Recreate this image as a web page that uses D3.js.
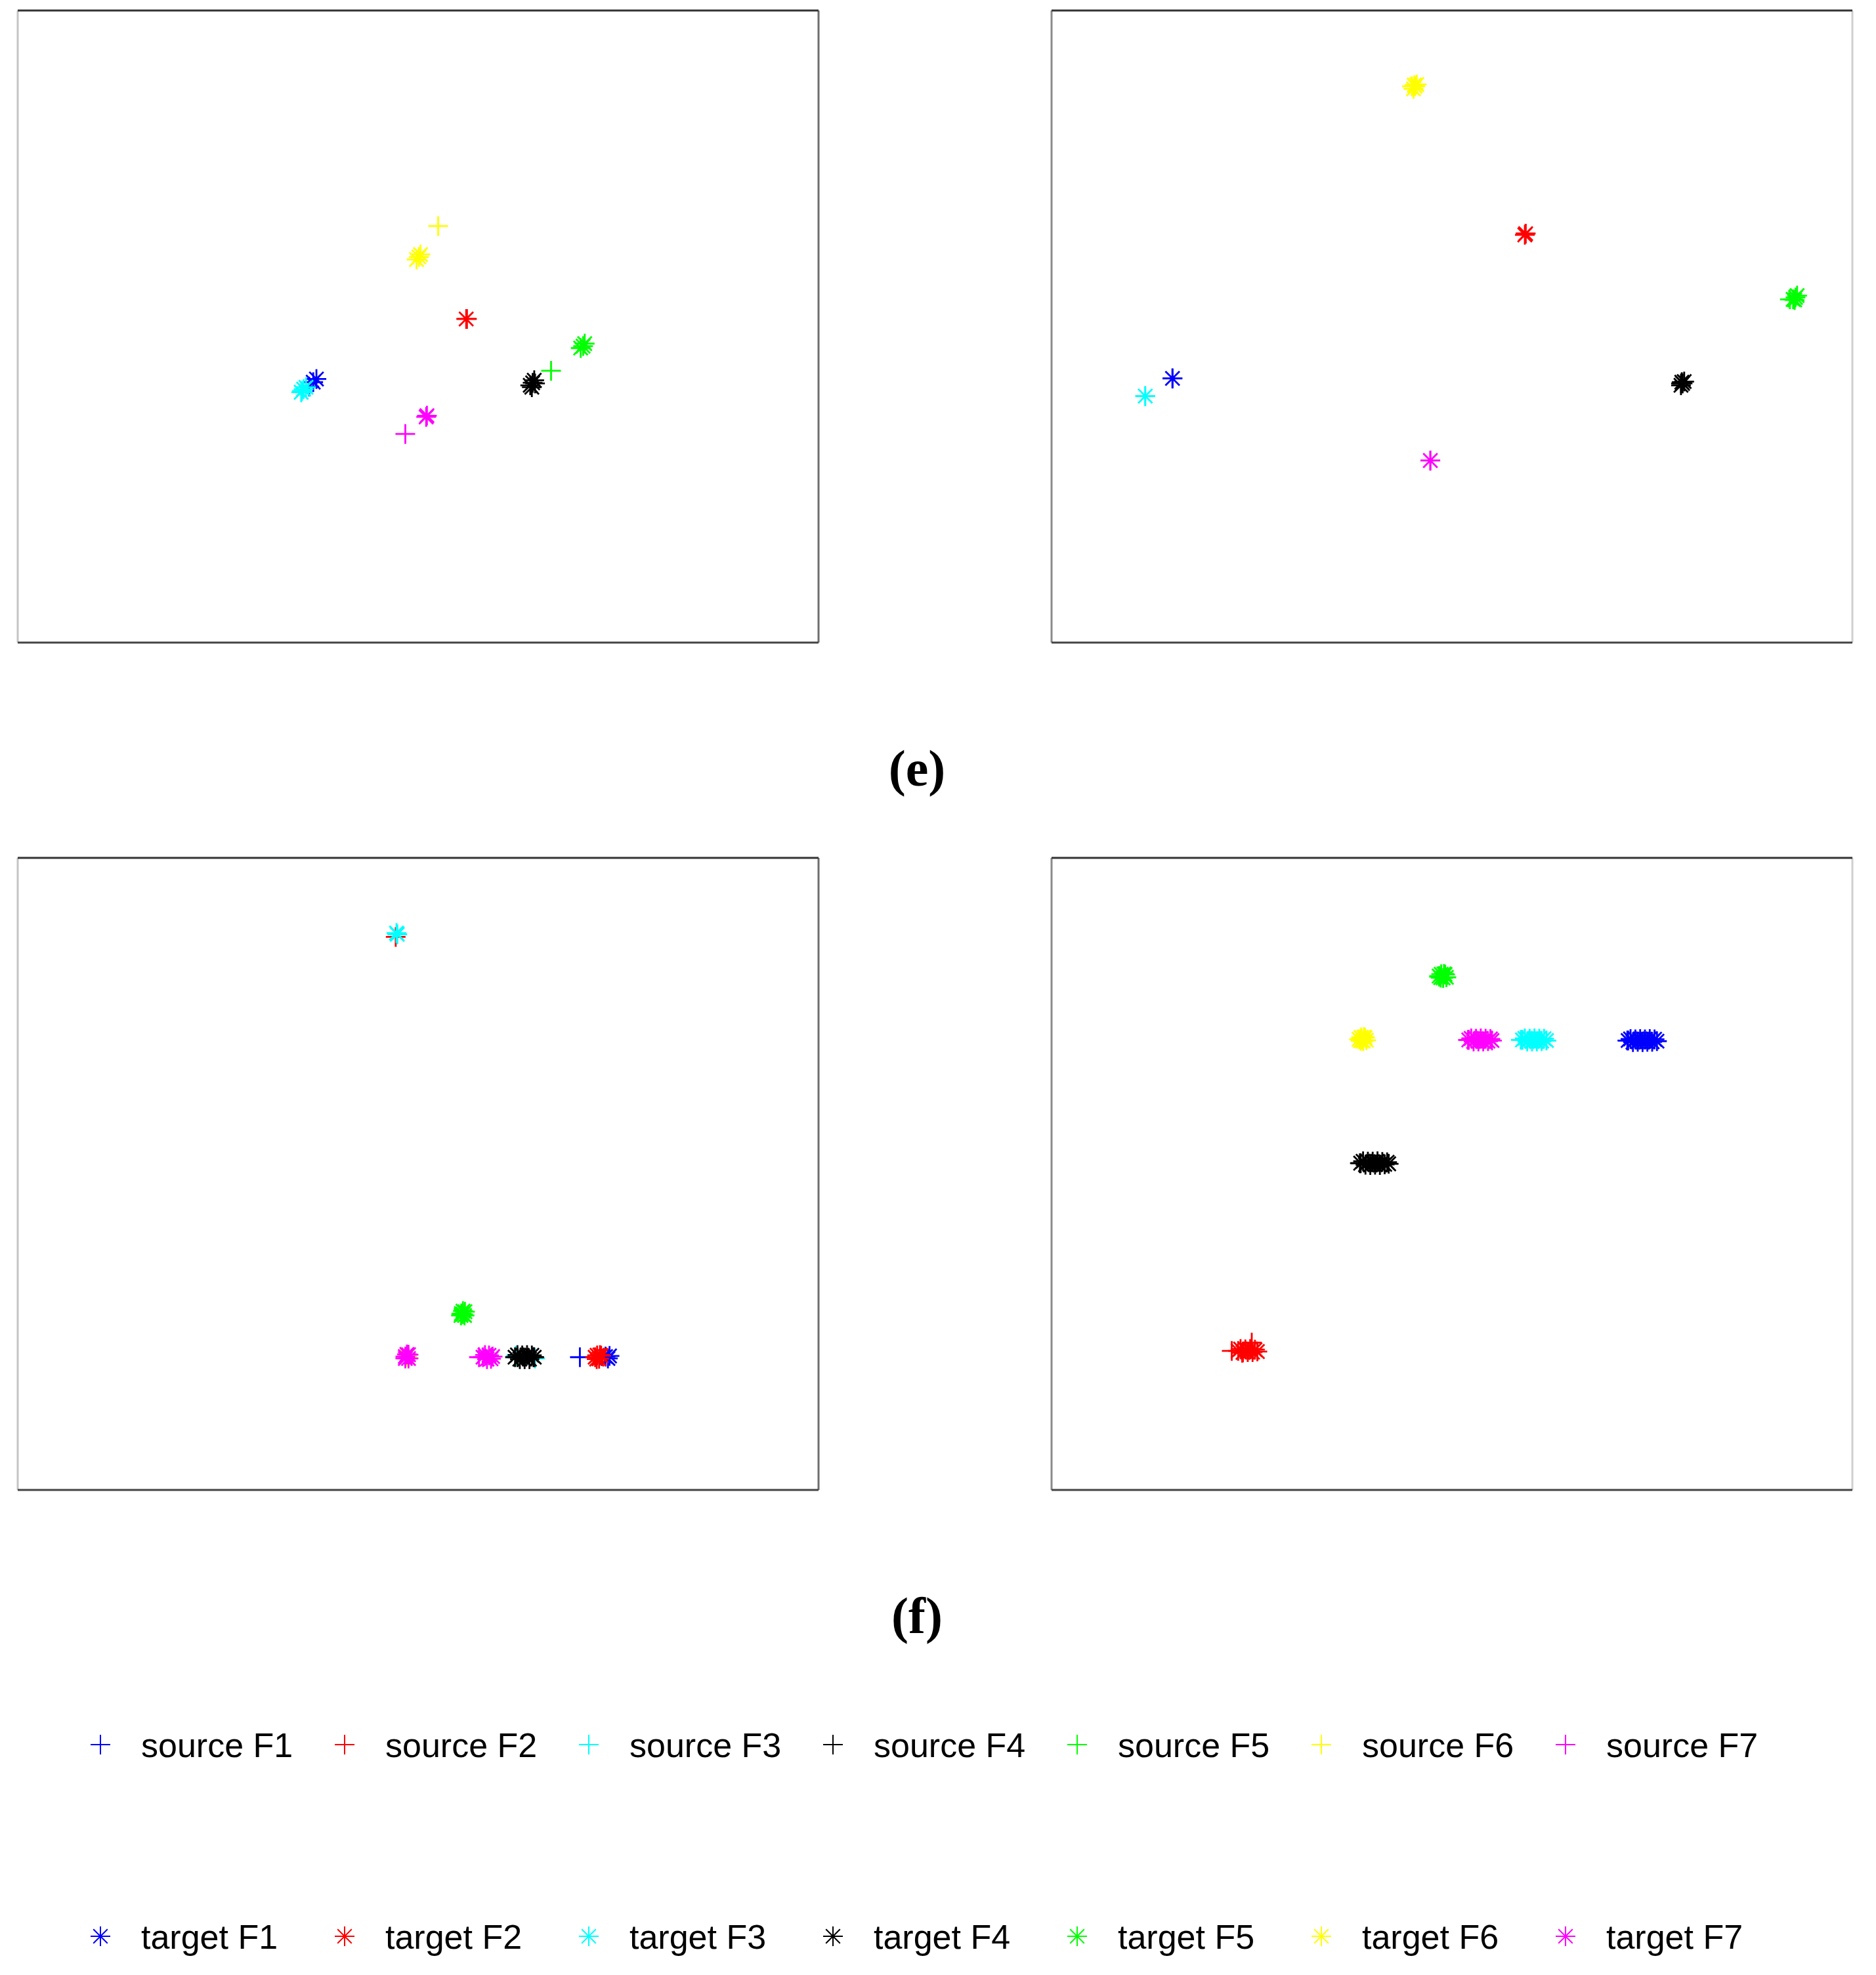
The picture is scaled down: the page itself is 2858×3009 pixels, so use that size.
<!DOCTYPE html>
<html>
<head>
<meta charset="utf-8">
<script src="https://d3js.org/d3.v7.min.js"></script>
<style>
  body { margin: 0; background: #fff; }
</style>
</head>
<body>
<div id="figure"></div>
<script>
// ===========================================================
// DATA (panel units 0-100)
// ===========================================================
var classNames = ["F1", "F2", "F3", "F4", "F5", "F6", "F7"];
var classColors = ["#0000ff", "#ff0000", "#00ffff", "#000000", "#00ff00", "#ffff00", "#ff00ff"];

// (e) left
var e1Source = [
    [[36.4, 40.5]],
    [[56.1, 51.2]],
    [[35.5, 39.8]],
    [[64.6, 41.0]],
    [[66.6, 43.0]],
    [[52.5, 65.9]],
    [[48.4, 33.0]]
];
var e1Target = [
    [[37.3, 41.7], [36.9, 41.2]],
    [[56.0, 51.2]],
    [[35.7, 40.1], [35.4, 39.6], [36.0, 40.4]],
    [[64.3, 41.1], [64.0, 40.7], [64.5, 41.5], [64.2, 40.4]],
    [[70.6, 46.9], [70.3, 46.6], [70.8, 47.3]],
    [[50.1, 61.0], [49.8, 60.6], [50.3, 61.4]],
    [[51.1, 35.9], [51.0, 35.7]]
];

// (e) right
var e2Source = [
    [[15.1, 41.8]],
    [[59.2, 64.7]],
    [[11.7, 39.0]],
    [[78.6, 41.0]],
    [[92.2, 54.3]],
    [[45.0, 88.0]],
    [[47.3, 28.8]]
];
var e2Target = [
    [[15.1, 41.8]],
    [[59.2, 64.7], [59.1, 64.5]],
    [[11.7, 39.0]],
    [[78.8, 41.0], [78.6, 40.7], [79.0, 41.3], [78.7, 41.2]],
    [[92.9, 54.6], [92.6, 54.3], [93.1, 54.9], [92.8, 54.2]],
    [[45.4, 88.0], [45.2, 87.6], [45.6, 88.3], [45.3, 88.2]],
    [[47.3, 28.8]]
];

// (f) left
var f1Source = [
    [[70.2, 21.0]],
    [[47.2, 87.5]],
    [[62.2, 21.2], [64.6, 20.8]],
    [[62.4, 21.0], [64.4, 21.0]],
    [[55.4, 27.9]],
    [[48.6, 21.1]],
    [[57.6, 21.0]]
];
var f1Target = [
    [[73.4, 21.1], [73.7, 20.8], [73.9, 21.2]],
    [[72.1, 21.0], [72.35, 21.3], [72.6, 20.75], [72.85, 21.25], [72.3, 20.7], [72.7, 21.35]],
    [[47.4, 87.9], [47.3, 88.1]],
    [[62.1, 21.0], [62.4, 21.35], [62.7, 20.7], [63.0, 21.3], [63.3, 20.7], [63.6, 21.35], [63.9, 20.7], [64.2, 21.3], [64.5, 21.0]],
    [[55.4, 27.9], [55.6, 28.3], [55.8, 27.6], [55.35, 27.6], [55.85, 28.2], [55.6, 27.8]],
    [[48.6, 21.1]],
    [[48.4, 21.1], [48.6, 21.45], [48.8, 20.8], [48.4, 20.8], [48.8, 21.4],
     [58.1, 21.0], [58.35, 21.35], [58.6, 20.7], [58.85, 21.3], [59.1, 20.75], [59.3, 21.1]]
];

// (f) right
var f2Source = [
    [[71.9, 71.1]],
    [[22.5, 22.0], [23.8, 21.7], [25.0, 23.3]],
    [[58.6, 71.2]],
    [[38.5, 51.7]],
    [[48.4, 81.2]],
    [[38.7, 71.3]],
    [[52.0, 71.2]]
];
var f2Target = [
    [[72.0, 71.1], [72.3, 71.35], [72.6, 70.85], [72.9, 71.3], [73.2, 70.9], [73.5, 71.35], [73.8, 70.85],
     [74.1, 71.3], [74.4, 70.9], [74.7, 71.35], [75.0, 70.9], [75.3, 71.3], [75.6, 71.0]],
    [[23.3, 22.0], [23.6, 22.3], [23.9, 21.75], [24.2, 22.25], [24.5, 21.8], [24.8, 22.3], [25.1, 21.8],
     [25.4, 22.2], [25.7, 21.9]],
    [[58.8, 71.2], [59.1, 71.45], [59.4, 70.95], [59.7, 71.4], [60.0, 70.95], [60.3, 71.45], [60.6, 70.95],
     [60.9, 71.4], [61.2, 71.0], [61.5, 71.4], [61.8, 71.1]],
    [[38.6, 51.7], [38.9, 52.0], [39.2, 51.45], [39.5, 51.95], [39.8, 51.4], [40.1, 51.95], [40.4, 51.45],
     [40.7, 52.0], [41.0, 51.4], [41.3, 51.9], [41.6, 51.5], [41.9, 51.85], [42.1, 51.6]],
    [[48.4, 81.3], [48.65, 81.6], [48.9, 81.0], [49.15, 81.55], [49.3, 81.1], [48.6, 81.05], [49.0, 81.65]],
    [[38.4, 71.3], [38.65, 71.6], [38.9, 71.0], [39.15, 71.55], [39.3, 71.15], [38.6, 71.05], [39.0, 71.65]],
    [[52.1, 71.2], [52.4, 71.45], [52.7, 70.95], [53.0, 71.4], [53.3, 70.95], [53.6, 71.45], [53.9, 70.95],
     [54.2, 71.4], [54.5, 71.0], [54.8, 71.35], [55.0, 71.1]]
];

var panelLabels = ["(e)", "(f)"];

// ===========================================================
// SVG WRAPPER
// ===========================================================
var svgWidth = 2858;
var svgHeight = 3009;

var svg = d3.select('#figure')
    .append('svg')
    .attr('width', svgWidth)
    .attr('height', svgHeight)
    .style('background', '#fff');

var panelWidth = 1220;
var panelHeight = 963;
var markerR = 15;

// plus and asterisk paths like the matlab markers
var plusPath = `M${-markerR},0H${markerR}M0,${-markerR}V${markerR}`;
var d = markerR * 0.72;
var starPath = plusPath + `M${-d},${-d}L${d},${d}M${-d},${d}L${d},${-d}`;

var panels = [
    {left: 27, top: 16, source: e1Source, target: e1Target, side: 'left'},
    {left: 1602, top: 16, source: e2Source, target: e2Target, side: 'right'},
    {left: 27, top: 1307, source: f1Source, target: f1Target, side: 'left'},
    {left: 1602, top: 1307, source: f2Source, target: f2Target, side: 'right'}
];

// ===========================================================
// PANELS
// ===========================================================
panels.forEach(function(p) {
    var x = d3.scaleLinear().domain([0, 100]).range([p.left, p.left + panelWidth]);
    var y = d3.scaleLinear().domain([0, 100]).range([p.top + panelHeight, p.top]);

    var g = svg.append('g');

    // frame: dark top/bottom, lighter sides
    var leftCol = p.side === 'left' ? '#c4c4c4' : '#8a8a8a';
    var rightCol = p.side === 'left' ? '#6e6e6e' : '#d0d0d0';
    g.append('line').attr('x1', x(0)).attr('x2', x(0)).attr('y1', y(100)).attr('y2', y(0))
        .attr('stroke', leftCol).attr('stroke-width', 3);
    g.append('line').attr('x1', x(100)).attr('x2', x(100)).attr('y1', y(100)).attr('y2', y(0))
        .attr('stroke', rightCol).attr('stroke-width', 3);
    g.append('line').attr('x1', x(0)).attr('x2', x(100)).attr('y1', y(100)).attr('y2', y(100))
        .attr('stroke', '#333').attr('stroke-width', 3);
    g.append('line').attr('x1', x(0)).attr('x2', x(100)).attr('y1', y(0)).attr('y2', y(0))
        .attr('stroke', '#444').attr('stroke-width', 3);

    // sources first, then targets (matlab plotting order)
    [['source', plusPath], ['target', starPath]].forEach(function(kind) {
        p[kind[0]].forEach(function(pts, i) {
            g.append('g')
                .selectAll('path')
                .data(pts)
                .enter()
                .append('path')
                .attr('d', kind[1])
                .attr('transform', function(v) { return `translate(${x(v[0])},${y(v[1])})`; })
                .attr('fill', 'none')
                .attr('stroke', classColors[i])
                .attr('stroke-width', 2.8);
        });
    });
});

// ===========================================================
// PANEL LABELS
// ===========================================================
svg.selectAll('text.plabel')
    .data(panelLabels)
    .enter()
    .append('text')
    .attr('class', 'plabel')
    .attr('x', 1397)
    .attr('y', function(t, i) { return 1197 + i * 1291; })
    .attr('text-anchor', 'middle')
    .style('font-family', '"Liberation Serif", "Times New Roman", serif')
    .style('font-weight', 'bold')
    .style('font-size', '78px')
    .text(function(t) { return t; });

// ===========================================================
// LEGEND
// ===========================================================
var legendX = d3.scaleLinear().domain([0, 6]).range([153, 2385]);
var legendRows = [
    {y: 2658, prefix: 'source ', path: plusPath},
    {y: 2950, prefix: 'target ', path: starPath}
];

legendRows.forEach(function(row) {
    var items = svg.append('g')
        .selectAll('g')
        .data(classNames)
        .enter()
        .append('g')
        .attr('transform', function(c, i) { return `translate(${legendX(i)},${row.y})`; });

    items.append('path')
        .attr('d', row.path)
        .attr('fill', 'none')
        .attr('stroke', function(c, i) { return classColors[i]; })
        .attr('stroke-width', 2);

    items.append('text')
        .attr('x', 62)
        .attr('y', 19)
        .style('font-family', '"Liberation Sans", Arial, sans-serif')
        .style('font-size', '52px')
        .text(function(c) { return row.prefix + c; });
});
</script>
</body>
</html>
